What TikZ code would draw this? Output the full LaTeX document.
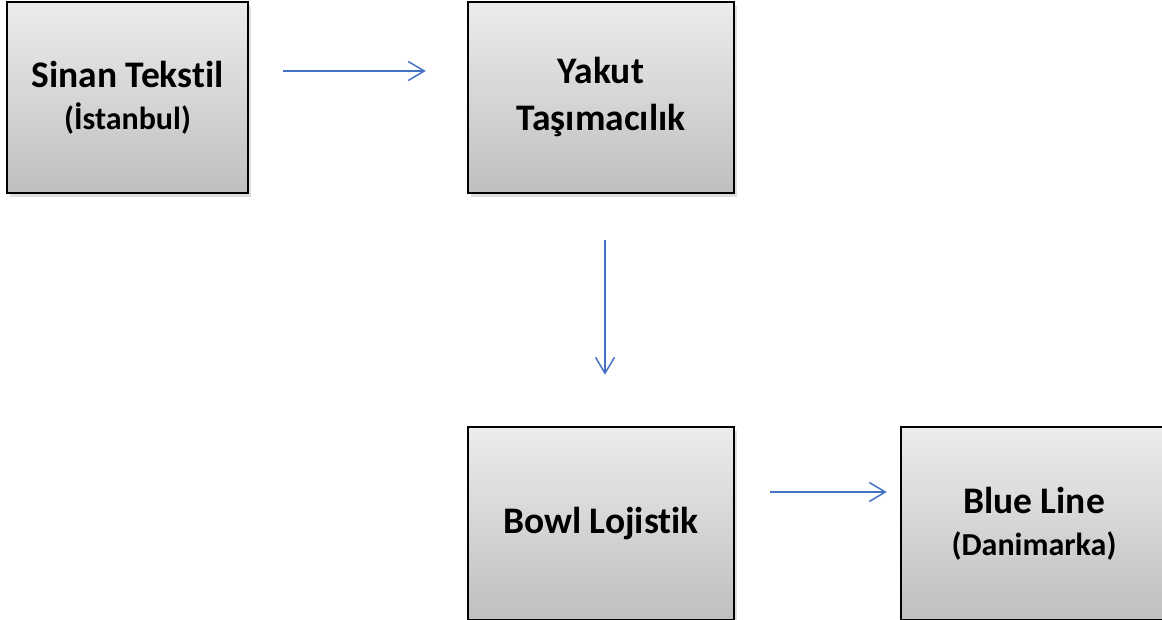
\documentclass[tikz,border=0pt]{standalone}
\usepackage{fontspec}
\setmainfont[Ligatures=NoCommon]{Carlito}
\usetikzlibrary{arrows.meta,shadows}
\definecolor{flowblue}{HTML}{4472C4}
\tikzstyle{firmbox} = [draw=black,line width=2.5pt,rectangle,inner sep=0pt,
  top color=gray!15,bottom color=gray!50,align=center,
  drop shadow={opacity=0.25,shadow xshift=3pt,shadow yshift=-4pt},
  font=\fontsize{37.5}{47}\selectfont\bfseries]
\tikzstyle{flow} = [draw=flowblue,line width=1.5pt,
  -{Straight Barb[length=16pt,width=19pt]}]
\newcommand{\cityline}[1]{{\fontsize{32}{40}\selectfont #1}}

\begin{document}
\begin{tikzpicture}[x=1pt,y=1pt]
    \useasboundingbox (0,0) rectangle (1162,620);
    \node [firmbox,minimum width=241pt,minimum height=191pt] (sinan) at (127.5,522.5) {%
      Sinan Tekstil\\[-5pt]\cityline{(İstanbul)}};
    \node [firmbox,minimum width=266pt,minimum height=191pt] (yakut) at (601,522.5) {%
      Yakut\\Taşımacılık};
    \node [firmbox,minimum width=266pt,minimum height=193pt] (bowl) at (601,96.5) {%
      Bowl Lojistik};
    \node [firmbox,minimum width=266pt,minimum height=193pt] (blueline) at (1034,96.5) {%
      Blue Line\\[-5pt]\cityline{(Danimarka)}};
    % connectors
    \draw [flow] ([xshift=34pt,yshift=26.5pt]sinan.east) -- ([xshift=-41pt,yshift=26.5pt]yakut.west);
    \draw [flow] ([xshift=4pt,yshift=-46pt]yakut.south) -- ([xshift=4pt,yshift=51pt]bowl.north);
    \draw [flow] ([xshift=35pt,yshift=31.5pt]bowl.east) -- ([xshift=-13pt,yshift=31.5pt]blueline.west);
\end{tikzpicture}
\end{document}
